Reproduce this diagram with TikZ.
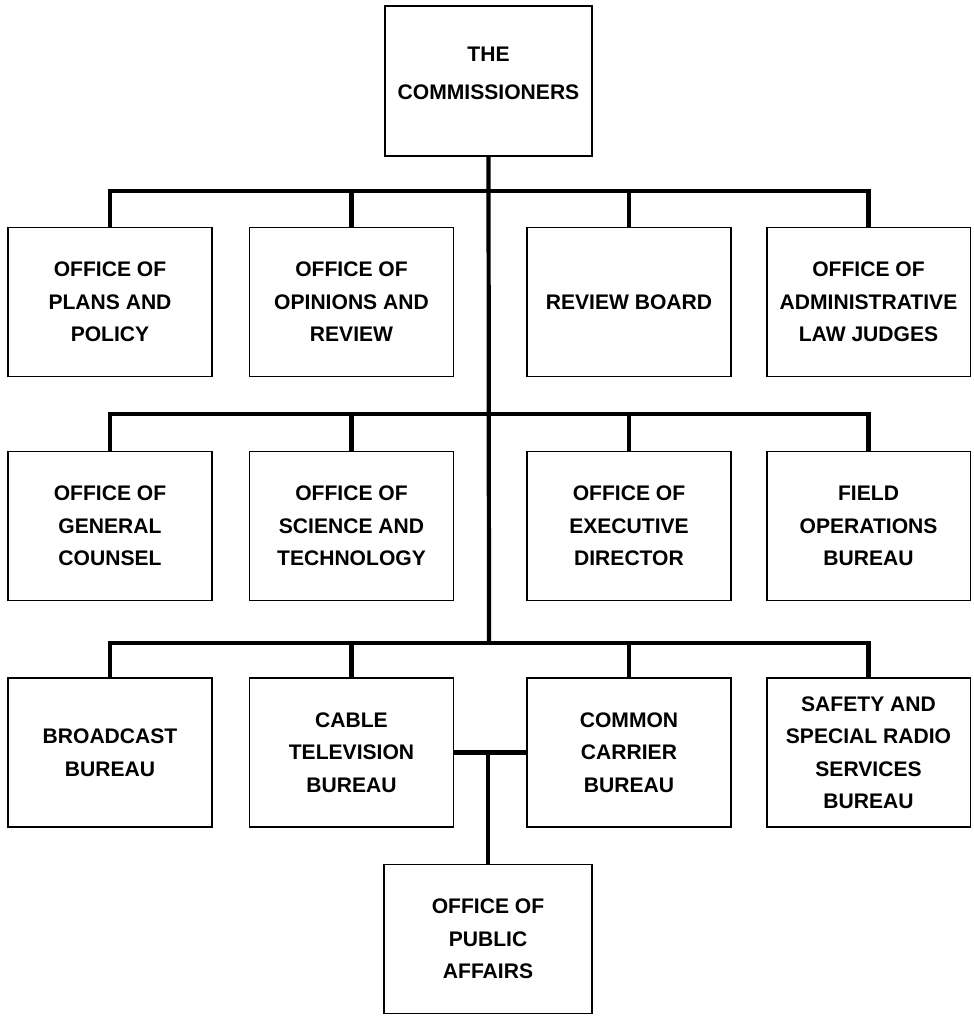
\documentclass[tikz,border=0pt]{standalone}
\usepackage{fontspec}
\setmainfont{Liberation Sans}
\usepackage{tikz}
\usetikzlibrary{positioning}

\begin{document}
\begin{tikzpicture}[x=0.02cm, y=-0.02cm,
    office/.style={draw=black, line width=1.1pt, align=center, inner sep=0pt,
      minimum width=4.08cm, minimum height=2.98cm,
      font=\bfseries\fontsize{12}{18.5}\selectfont},
    link/.style={draw=black, line width=2.4pt}]
    \useasboundingbox (0,0) rectangle (973,1016);

    % top
    \node[office, minimum width=4.14cm, minimum height=3cm] (comm) at (488.5,81) {THE\\[3pt]COMMISSIONERS\\[-10pt]};

    % first row
    \node[office] (plans)    at (110,302)   {OFFICE OF\\PLANS AND\\POLICY};
    \node[office] (opinions) at (351.5,302) {OFFICE OF\\OPINIONS AND\\REVIEW};
    \node[office] (board)    at (629,302)   {REVIEW BOARD};
    \node[office] (judges)   at (868.5,302) {OFFICE OF\\ADMINISTRATIVE\\LAW JUDGES};

    % second row
    \node[office] (counsel)  at (110,526)   {OFFICE OF\\GENERAL\\COUNSEL};
    \node[office] (science)  at (351.5,526) {OFFICE OF\\SCIENCE AND\\TECHNOLOGY};
    \node[office] (director) at (629,526)   {OFFICE OF\\EXECUTIVE\\DIRECTOR};
    \node[office] (field)    at (868.5,526) {FIELD\\OPERATIONS\\BUREAU};

    % bureaus
    \node[office] (broadcast) at (110,752.5)   {BROADCAST\\BUREAU};
    \node[office] (cable)     at (351.5,752.5) {CABLE\\TELEVISION\\BUREAU};
    \node[office] (carrier)   at (629,752.5)   {COMMON\\CARRIER\\BUREAU};
    \node[office] (safety)    at (868.5,752.5) {SAFETY AND\\SPECIAL RADIO\\SERVICES\\BUREAU};

    \node[office, minimum width=4.16cm] (public) at (488,939) {OFFICE OF\\PUBLIC\\AFFAIRS};

    \coordinate (bar1) at (489,191);
    \coordinate (bar2) at (489,414);
    \coordinate (bar3) at (489,643);

    \draw[link] (comm.south) -- (bar3);

    \draw[link] (plans.north) |- (bar1) -| (judges.north);
    \draw[link] (opinions.north) -- (opinions.north |- bar1);
    \draw[link] (board.north) -- (board.north |- bar1);

    \draw[link] (counsel.north) |- (bar2) -| (field.north);
    \draw[link] (science.north) -- (science.north |- bar2);
    \draw[link] (director.north) -- (director.north |- bar2);

    \draw[link] (broadcast.north) |- (bar3) -| (safety.north);
    \draw[link] (cable.north) -- (cable.north |- bar3);
    \draw[link] (carrier.north) -- (carrier.north |- bar3);

    \draw[link] (cable.east) -- (carrier.west);
    \draw[link] (public.north) -- (public.north |- cable.east);
\end{tikzpicture}
\end{document}
